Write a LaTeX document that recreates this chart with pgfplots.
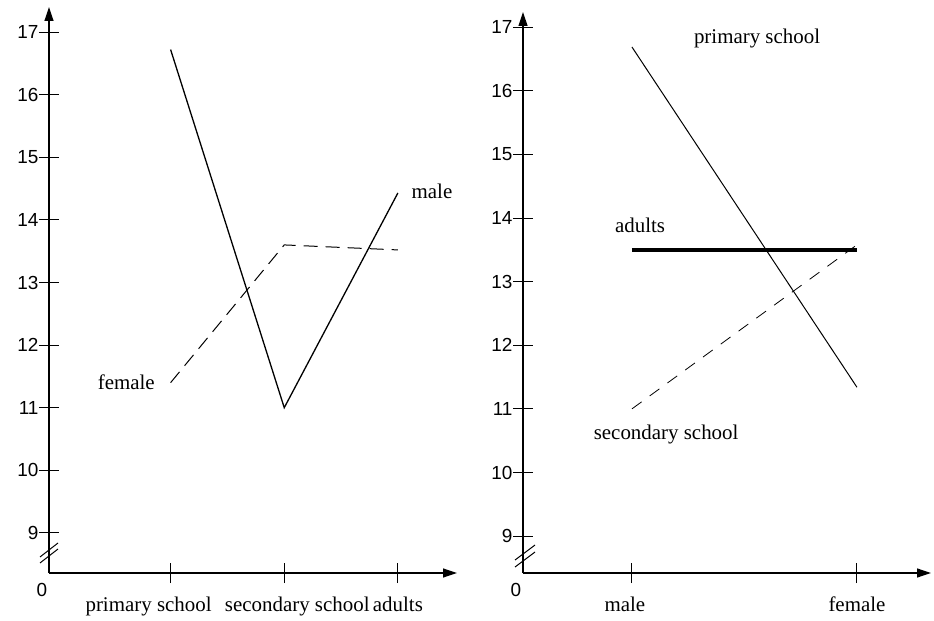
\documentclass[border=0pt]{standalone}
\usepackage{fontspec}
\setmainfont{Liberation Serif}
\newfontfamily\ticksfont{Liberation Sans}
\usepackage{pgfplots}
\pgfplotsset{compat=1.18}
\usetikzlibrary{arrows.meta}
\begin{document}
\begin{tikzpicture}
\path[use as bounding box] (0bp,0bp) rectangle (934bp,621bp);
\pgfplotsset{
 myax/.style={
  scale only axis, axis lines=left, clip=false,
  axis line style={line width=1.2bp, -{Triangle[length=14bp,width=9bp]}},
  tick align=center, major tick length=20bp,
  tick style={black, line width=1bp},
  ytick={9,...,17}, yticklabels={9,10,11,12,13,14,15,16,17},
  yticklabel style={font=\ticksfont\fontsize{19}{19}\selectfont, xshift=3bp},
  xticklabel style={font=\fontsize{21}{21}\selectfont, yshift=-10bp},
  anchor=south west,
 }}
\begin{axis}[myax, at={(49bp,48bp)}, width=408bp, height=566bp,
  xmin=-0.07, xmax=3.52, ymin=8.36, ymax=17.4,
  xtick={1,2,3}, xticklabels={\hspace*{-44bp}primary school, secondary school\hspace*{-26bp}, adults}]
\addplot[black, line width=1.3bp] coordinates {(1,16.72) (2,11.0) (3,14.43)};
\addplot[black, line width=1bp, dash pattern=on 14bp off 8bp] coordinates {(1,11.4) (2,13.6) (3,13.52)};
\node[font=\fontsize{21}{21}\selectfont] at (axis cs:3.30,14.45) {male};
\node[font=\fontsize{21}{21}\selectfont] at (axis cs:0.61,11.41) {female};
\node[font=\ticksfont\fontsize{19}{19}\selectfont] at (rel axis cs:0,0) [xshift=-7bp, yshift=-17bp] {0};
\end{axis}
\draw[line width=1bp] (40bp,58bp)--(58bp,72bp) (40bp,64bp)--(58bp,78bp);
\begin{axis}[myax, at={(523bp,48bp)}, width=408bp, height=561bp,
  xmin=0.516, xmax=2.329, ymin=8.42, ymax=17.24,
  xtick={1,2}, xticklabels={\hspace*{-14bp}male, female}]
\addplot[black, line width=1bp] coordinates {(1,16.69) (2,11.34)};
\addplot[black, line width=0.8bp, dash pattern=on 12bp off 10bp] coordinates {(1,11.0) (2,13.58)};
\addplot[black, line width=3.5bp] coordinates {(1,13.5) (2,13.5)};
\node[font=\fontsize{21}{21}\selectfont] at (axis cs:1.556,16.83) {primary school};
\node[font=\fontsize{21}{21}\selectfont] at (axis cs:1.036,13.89) {adults};
\node[font=\fontsize{21}{21}\selectfont] at (axis cs:1.152,10.59) {secondary school};
\node[font=\ticksfont\fontsize{19}{19}\selectfont] at (rel axis cs:0,0) [xshift=-7bp, yshift=-17bp] {0};
\end{axis}
\draw[line width=1bp] (515bp,54bp)--(535bp,69bp) (515bp,61bp)--(535bp,76bp);
\end{tikzpicture}
\end{document}
